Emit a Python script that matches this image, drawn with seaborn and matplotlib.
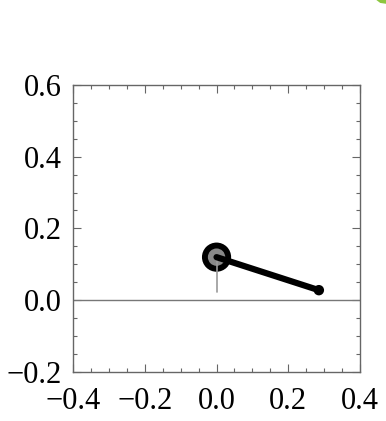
import matplotlib
matplotlib.use("Agg")
import matplotlib.pyplot as plt
import seaborn as sns
import pandas as pd
from matplotlib.ticker import MultipleLocator

# pendulum state
pivot_x = [0.0]
pivot_y = [0.12]
bob_x = [0.285]
bob_y = [0.028]
stem_y = [0.12, 0.022]
ground_y = 0.0

x_ticks = [-0.4, -0.2, 0.0, 0.2, 0.4]
y_ticks = [-0.2, 0.0, 0.2, 0.4, 0.6]

sns.set_style("ticks")
plt.rcParams["font.family"] = ["Liberation Serif", "DejaVu Serif"]
plt.rcParams["axes.unicode_minus"] = True

fig = plt.figure(figsize=(3.86, 4.21), dpi=100)
ax = fig.add_axes([0.189, 0.1164, 0.744, 0.682])

rod = pd.DataFrame({"x": pivot_x + bob_x, "y": pivot_y + bob_y})

ax.axhline(ground_y, color="#777777", lw=1.0, zorder=1)
sns.scatterplot(x=pivot_x, y=pivot_y, ax=ax, s=21 ** 2, color="black",
                edgecolor="none", zorder=2, legend=False)
sns.scatterplot(x=pivot_x, y=pivot_y, ax=ax, s=12.5 ** 2, color="#888888",
                edgecolor="none", zorder=3, legend=False)
ax.plot([pivot_x[0], pivot_x[0]], stem_y, color="#999999", lw=1.2, zorder=4)
sns.lineplot(data=rod, x="x", y="y", ax=ax, color="black", lw=4.5,
             sort=False, zorder=5, legend=False)
sns.scatterplot(x=bob_x, y=bob_y, ax=ax, s=7.5 ** 2, color="black",
                edgecolor="none", zorder=6, legend=False)

ax.set_xlim(-0.4, 0.4)
ax.set_ylim(-0.2, 0.6)
ax.set_xticks(x_ticks)
ax.set_yticks(y_ticks)
ax.set_xticklabels([f"{v:.1f}".replace("-", "\u2212") for v in x_ticks])
ax.set_yticklabels([f"{v:.1f}".replace("-", "\u2212") for v in y_ticks])
ax.xaxis.set_minor_locator(MultipleLocator(0.05))
ax.yaxis.set_minor_locator(MultipleLocator(0.05))
ax.tick_params(which="both", direction="in", top=True, right=True,
               color="#666666", width=0.8, labelsize=22, labelcolor="black")
ax.tick_params(axis="x", which="major", pad=11)
ax.tick_params(axis="y", which="major", pad=8)
ax.tick_params(which="major", length=6)
ax.tick_params(which="minor", length=3)
ax.set_xlabel("")
ax.set_ylabel("")
for sp in ax.spines.values():
    sp.set_color("#666666")
    sp.set_linewidth(1.0)

# little green corner decoration
fig.patches.append(plt.Polygon([[0.975, 1.0], [1.0, 1.0], [1.0, 0.991], [0.985, 0.993]],
                               closed=True, transform=fig.transFigure,
                               facecolor="#8cc63f", edgecolor="none"))

fig.savefig("out.png", dpi=100)
